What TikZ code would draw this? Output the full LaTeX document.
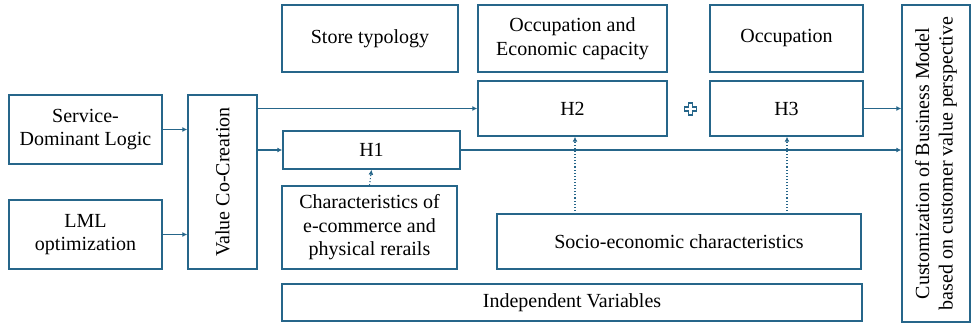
\documentclass[tikz,border=0pt]{standalone}
\usepackage{fontspec}
\setmainfont{Liberation Serif}
\newfontfamily\tnr{Liberation Serif}
\usetikzlibrary{arrows.meta}
\definecolor{bc}{RGB}{38,102,138}
\begin{document}
\begin{tikzpicture}[x=1pt,y=-1pt,
  bx/.style={draw=bc,line width=1.4pt,inner sep=0pt,align=center,font=\tnr\fontsize{20}{23.5}\selectfont},
  arr/.style={draw=bc,line width=1.2pt,-{Latex[length=5pt,width=5pt]}},
  dot/.style={draw=bc,line width=1.1pt,dotted,-{Latex[length=5pt,width=5pt]}},
  plusmark/.style={draw=bc,line width=1.5pt,line join=miter,fill=white}]
\useasboundingbox (0,0) rectangle (971,324);
\newcommand\bxat[6]{\node[bx,minimum width=#4-#2,minimum height=#5-#3] (#1) at ({(#2+#4)/2},{(#3+#5)/2}) {#6};}
\bxat{sdl}{9}{95}{162}{164}{Service-\\Dominant Logic}
\bxat{lml}{9}{200}{162}{269}{LML\\optimization}
\node[bx,minimum width=174,minimum height=69,rotate=90] (vcc) at (222.5,182) {Value Co-Creation};
\bxat{st}{282}{5}{458}{72}{Store typology}
\bxat{oec}{478}{5}{667}{72}{Occupation and\\Economic capacity}
\bxat{occ}{710}{5}{863}{72}{Occupation}
\bxat{h2}{478}{81}{667}{136}{H2}
\bxat{h3}{710}{81}{863}{136}{H3}
\bxat{h1}{283}{131}{460}{169}{H1}
\bxat{ch}{282}{186}{457}{269}{Characteristics of\\e-commerce and\\physical rerails}
\bxat{se}{497}{214}{861}{269}{Socio-economic characteristics}
\bxat{iv}{282}{284}{862}{321}{Independent Variables}
\node[bx,minimum width=317,minimum height=68,rotate=90] (cbm) at (936,163.5) {Customization of Business Model\\based on customer value perspective};
\coordinate (plus) at (690.5,109);
\draw[plusmark] ([shift={(-2.2,-5.8)}]plus) -- ++(4.4,0) -- ++(0,3.6) -- ++(3.6,0) -- ++(0,4.4) -- ++(-3.6,0) -- ++(0,3.6) -- ++(-4.4,0) -- ++(0,-3.6) -- ++(-3.6,0) -- ++(0,-4.4) -- ++(3.6,0) -- cycle;
\draw[arr] (sdl.east) -- (sdl.east -| vcc.north);
\draw[arr] (lml.east) -- (lml.east -| vcc.north);
\coordinate (v1) at (vcc.south |- h2.west);
\draw[arr] (v1) -- (h2.west);
\draw[arr] (vcc.south |- h1.west) -- (h1.west);
\draw[arr] (h1.east) -- (h1.east -| cbm.north);
\draw[arr] (h3.east) -- (h3.east -| cbm.north);
\draw[dot] (ch.north) -- (h1.south);
\coordinate (s2) at (575,214);
\coordinate (s3) at (787,214);
\draw[dot] (s2) -- (s2 |- h2.south);
\draw[dot] (s3) -- (s3 |- h3.south);
\end{tikzpicture}
\end{document}
